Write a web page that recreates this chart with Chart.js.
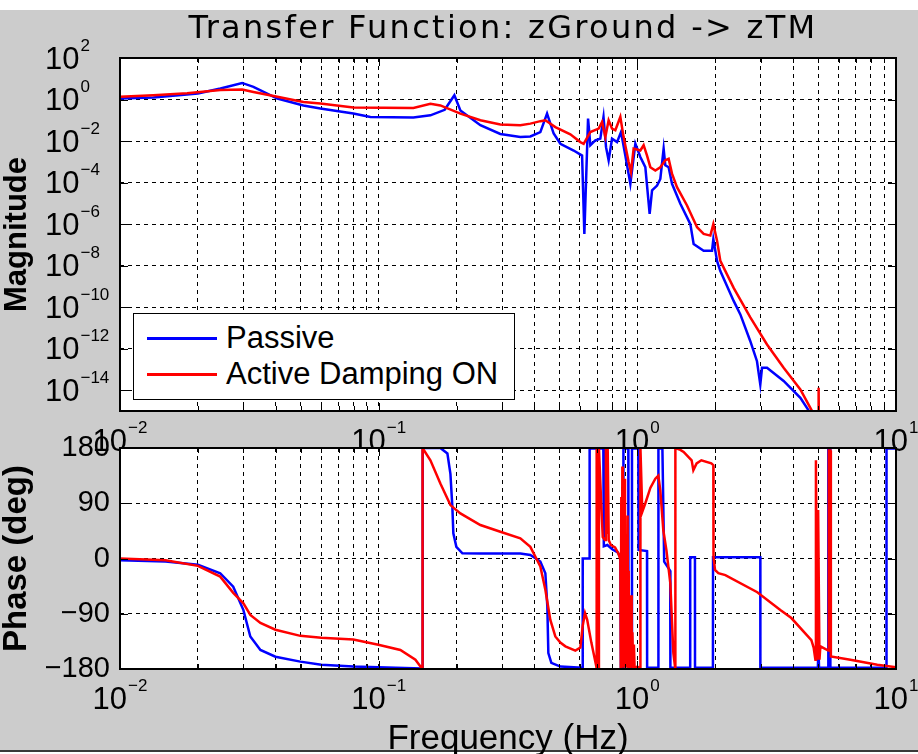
<!DOCTYPE html>
<html>
<head>
<meta charset="utf-8">
<script src="https://cdn.jsdelivr.net/npm/chart.js@4.4.1/dist/chart.umd.min.js"></script>
<style>
  html, body { margin: 0; padding: 0; background: #ffffff; }
  #figure { position: relative; width: 918px; height: 754px; overflow: hidden; }
  #backdrop { position: absolute; left: 0; top: 10px; width: 918px; height: 740px; background: #cccccc; border-bottom: 2px solid #3a3a3a; }
  canvas { position: absolute; left: 0; top: 0; }
  #magCanvas { z-index: 1; }
  #phaseCanvas { z-index: 2; }
  #title { position: absolute; left: 0; top: 7px; width: 1006px; text-align: center; z-index: 3;
           font: 32px "DejaVu Sans", sans-serif; line-height: 40px; letter-spacing: 2.3px; color: #000; white-space: nowrap; }
  #legend { position: absolute; left: 133px; top: 313px; width: 382px; height: 87px; box-sizing: border-box;
            border: 1.5px solid #000; background: #fff; z-index: 3; }
  .entry { position: absolute; left: 0; height: 36px; width: 100%; }
  .swatch { position: absolute; left: 13px; top: 17px; width: 70px; height: 3px; }
  .label { position: absolute; left: 92px; top: 0; font: 31px "Liberation Sans", Arial, sans-serif; line-height: 36px; color: #000; white-space: nowrap; }
</style>
</head>
<body>
<div id="figure">
  <div id="backdrop"></div>
  <canvas id="magCanvas" width="918" height="754"></canvas>
  <canvas id="phaseCanvas" width="918" height="754"></canvas>
  <div id="title">Transfer Function: zGround -&gt; zTM</div>
  <div id="legend"></div>
</div>

<script>
    // axis ticks
    const xTickExponents = [-2, -1, 0, 1];
    const xGridMantissas = [1, 2, 3, 4, 5, 6, 7, 8, 9];
    const magTickExponents = [-14, -12, -10, -8, -6, -4, -2, 0, 2];
    const phaseTicks = [-180, -90, 0, 90, 180];

    const seriesNames = ['Passive', 'Active Damping ON'];
    const seriesColors = ['#0000ff', '#ff0000'];

    // magnitude, passive (Hz, |H|)
    const magFreqPassive = [0.01, 0.01346, 0.02, 0.02444, 0.02965, 0.0328, 0.04059, 0.05116, 0.05953, 0.0798,
        0.0929, 0.1362, 0.1585, 0.18, 0.1962, 0.207, 0.2473, 0.2954, 0.3529, 0.3858,
        0.4217, 0.4477, 0.4748, 0.504, 0.5674, 0.6115, 0.624, 0.6449, 0.6581, 0.6882,
        0.7194, 0.74, 0.7568, 0.7745, 0.7983, 0.8347, 0.865, 0.8987, 0.9397, 0.9825,
        1.0271, 1.0738, 1.1159, 1.1401, 1.1921, 1.2271, 1.2638, 1.2829, 1.3213, 1.3617,
        1.4665, 1.6032, 1.6506, 1.8045, 1.9443, 1.9672, 2.0332, 2.0936, 2.357, 2.5016,
        2.734, 2.901, 2.988, 3.034, 3.172, 3.678, 4.268, 4.666, 5.2];
    const magPassive = [1.12, 1.26, 1.95, 3.4, 6.3, 4.1, 1.12, 0.52, 0.37, 0.21,
        0.145, 0.135, 0.174, 0.32, 1.6, 0.30, 0.058, 0.022, 0.0155, 0.0166,
        0.027, 0.21, 0.023, 0.0074, 0.0035, 0.002, 3.4e-7, 0.12, 0.0063, 0.0107,
        0.013, 0.145, 0.0051, 0.00117, 0.013, 0.0089, 0.027, 0.002, 8.7e-5, 0.0074,
        0.0017, 5.5e-4, 3.1e-6, 4.2e-5, 7.2e-5, 1.5e-4, 0.0043, 6.8e-4, 5.5e-4, 8.7e-5,
        9.5e-6, 1.0e-6, 1.1e-7, 5.2e-8, 5.2e-8, 1.9e-7, 1.7e-8, 5.5e-9, 2.0e-10, 4.5e-11,
        2.3e-12, 2.5e-13, 1.9e-14, 1.2e-13, 1.2e-13, 2.8e-14, 4.3e-15, 7.9e-16, 1e-17];

    // magnitude, active damping on
    const magFreqActive = [0.01, 0.01346, 0.01817, 0.02444, 0.02965, 0.0328, 0.04059, 0.05116, 0.05953, 0.0798,
        0.1362, 0.1585, 0.1732, 0.207, 0.2473, 0.2954, 0.3529, 0.3858, 0.4217, 0.441,
        0.4819, 0.5508, 0.6022, 0.62, 0.658, 0.7087, 0.7306, 0.7522, 0.7745, 0.7983,
        0.8222, 0.8596, 0.8851, 0.9256, 0.9454, 0.9676, 1.0271, 1.0578, 1.0902, 1.1226,
        1.1737, 1.2271, 1.2829, 1.3213, 1.3617, 1.4234, 1.5563, 1.7017, 1.8045, 1.9154,
        1.9672, 2.0332, 2.0936, 2.357, 2.734, 3.172, 3.678, 4.268, 4.734, 4.95,
        5.0, 5.022, 5.04];
    const magActive = [1.35, 1.6, 2.0, 2.9, 3.0, 2.3, 1.35, 0.76, 0.65, 0.41,
        0.39, 0.63, 0.52, 0.21, 0.1, 0.063, 0.058, 0.069, 0.091, 0.1,
        0.047, 0.021, 0.0089, 0.0074, 0.027, 0.04, 0.083, 0.0155, 0.1, 0.04,
        0.033, 0.145, 0.0155, 9.8e-4, 3.2e-4, 0.0043, 0.0035, 0.0063, 0.002, 5.5e-4,
        3.8e-4, 5.5e-4, 0.0012, 0.0014, 2.7e-4, 6.0e-5, 7.9e-6, 7.1e-7, 3.4e-7, 2.8e-7,
        1.0e-6, 1.6e-7, 1.7e-8, 8.5e-10, 3.2e-11, 1.6e-12, 1.2e-13, 1.1e-14, 1.0e-15, 1e-17,
        1e-17, 1.3e-14, 1e-17];

    // phase, passive (Hz, deg)
    const phaseFreqPassive = [0.01, 0.015, 0.02, 0.0244, 0.0274, 0.03, 0.0319, 0.0349, 0.0399, 0.0498,
        0.06, 0.0798, 0.0997, 0.1475, 0.148, 0.1732, 0.1844, 0.1894, 0.1927, 0.1944,
        0.1997, 0.2107, 0.2473, 0.3529, 0.3858, 0.4217, 0.441, 0.4488, 0.4529, 0.4651,
        0.504, 0.6148, 0.615, 0.653, 0.654, 0.7389, 0.742, 0.7656, 0.8, 0.84,
        0.8596, 0.864, 0.8829, 0.8835, 0.923, 0.9235, 0.953, 0.9535, 1.009, 1.011,
        1.09, 1.091, 1.2055, 1.2065, 1.25, 1.27, 1.34, 1.342, 1.6, 1.601,
        1.67, 1.671, 1.96, 1.962, 2.988, 2.99, 4.99, 5.01, 5.04, 5.47,
        5.475, 5.57, 5.575, 9.18, 9.19, 10];
    const phasePassive = [-3, -5, -10, -24, -46, -84, -127, -149, -160, -168,
        -173, -176, -177, -179, 180, 180, 171, 138, 84, 41,
        19, 8.5, 8, 8, 5.7, -5, -24, -78, -154, -170,
        -176, -178, 0, 0, 179, 179, 20, 22, 15, 10,
        2, -178, -178, 179, 179, -178, -178, 179, 179, 14,
        12, -178, -178, 179, 179, -5, -20, -178, -178, 2,
        2, -178, -178, 2, 2, -178, -178, -137, -178, -178,
        179, 179, -178, -178, 179, 179];

    // phase, active damping on
    const phaseFreqActive = [0.01, 0.015, 0.02, 0.0244, 0.0274, 0.03, 0.0319, 0.0349, 0.0399, 0.0498,
        0.06, 0.0798, 0.0997, 0.1213, 0.1387, 0.1475, 0.1478, 0.1585, 0.1732, 0.1894,
        0.207, 0.2473, 0.2954, 0.3529, 0.3858, 0.4217, 0.441, 0.461, 0.4819, 0.504,
        0.5269, 0.576, 0.6022, 0.6148, 0.6277, 0.64, 0.6641, 0.6942, 0.696, 0.6965,
        0.704, 0.71, 0.7105, 0.725, 0.735, 0.75, 0.756, 0.762, 0.768, 0.775,
        0.79, 0.82, 0.845, 0.86, 0.863, 0.867, 0.871, 0.875, 0.879, 0.884,
        0.888, 0.892, 0.896, 0.9, 0.904, 0.908, 0.912, 0.917, 0.921, 0.926,
        0.93, 0.935, 0.94, 0.946, 0.951, 0.957, 0.963, 0.97, 0.976, 1.0,
        1.027, 1.028, 1.045, 1.0738, 1.1028, 1.1226, 1.1737, 1.2055, 1.2271, 1.2603,
        1.295, 1.3413, 1.378, 1.4023, 1.403, 1.4665, 1.51, 1.6217, 1.6465, 1.6952,
        1.7682, 1.932, 1.9672, 1.97, 1.997, 2.0567, 2.189, 2.9092, 3.5718, 3.9394,
        4.708, 4.804, 4.88, 4.903, 4.96, 5.0, 5.06, 5.1, 5.474, 5.5,
        5.574, 5.6, 6.662, 8.4655, 10];
    const phaseActive = [0, -3, -12, -29.5, -56, -73, -92, -105, -116, -126,
        -129, -132, -140.5, -149, -165, -180, 180, 160, 122, 87,
        73.5, 54.5, 43.5, 33, 19, -13, -51, -100, -127, -137,
        -143, -150, -145, -110, -89, -100, -137, -176, -180, 180,
        60, -180, 180, 90, 35, 30, 180, 40, 180, 30,
        22, 18, 8, -2, -180, 100, -170, 150, -178, 60,
        -175, 130, -178, 20, -170, -40, -178, 70, -176, -20,
        -178, -90, -176, -60, -178, -120, -178, -140, -178, -176,
        -179, 180, 76, 90, 105, 115, 130, 135, 111, 46,
        14, -40, -154, -180, 180, 177, 173.5, 160, 144, 155,
        160, 155, 152, 3, -18.6, -24, -27, -55, -84, -97,
        -133, -145, -165, 160, -165, 79, -165, -143, -150, 176,
        176, -159.5, -165, -173, -177];

    function toPoints(xs, ys) {
        return xs.map((x, i) => ({ x: x, y: ys[i] }));
    }

    const MINUS = '\u2212';
    const BASE_FONT = '31px "Liberation Sans", Arial, sans-serif';
    const EXP_FONT = '17px "Liberation Sans", Arial, sans-serif';

    function buildLogXTicks(scale) {
        const ticks = [];
        xTickExponents.forEach(e => {
            xGridMantissas.forEach(m => {
                const v = m * Math.pow(10, e);
                if (v <= 10.0001) ticks.push({ value: v, major: m === 1 });
            });
        });
        scale.ticks = ticks;
    }

    function expText(e) {
        return e < 0 ? MINUS + (-e) : String(e);
    }

    // white axes box, inward tick marks and the solid frame
    const axesFrame = {
        id: 'axesFrame',
        beforeDraw(chart) {
            const { ctx, chartArea: a } = chart;
            ctx.save();
            ctx.fillStyle = '#ffffff';
            ctx.fillRect(a.left, a.top, a.right - a.left, a.bottom - a.top);
            ctx.restore();
        },
        afterDatasetsDraw(chart) {
            const { ctx, chartArea: a, scales } = chart;
            ctx.save();
            ctx.strokeStyle = '#000';
            ctx.lineWidth = 1;
            ctx.beginPath();
            scales.x.ticks.forEach(t => {
                const px = Math.round(scales.x.getPixelForValue(t.value)) + 0.5;
                const len = t.major ? 8 : 5;
                ctx.moveTo(px, a.top); ctx.lineTo(px, a.top + len);
                ctx.moveTo(px, a.bottom); ctx.lineTo(px, a.bottom - len);
            });
            scales.y.ticks.forEach(t => {
                const py = Math.round(scales.y.getPixelForValue(t.value)) + 0.5;
                ctx.moveTo(a.left, py); ctx.lineTo(a.left + 8, py);
                ctx.moveTo(a.right, py); ctx.lineTo(a.right - 8, py);
            });
            ctx.stroke();
            ctx.lineWidth = 2;
            ctx.strokeRect(a.left, a.top, a.right - a.left, a.bottom - a.top);
            ctx.restore();
        }
    };

    // "10" with a raised exponent, placed with the chart's own scales
    const expLabels = {
        id: 'expLabels',
        afterDraw(chart, args, opts) {
            const { ctx, chartArea: a, scales } = chart;
            ctx.save();
            ctx.fillStyle = '#000';
            ctx.textBaseline = 'alphabetic';
            ctx.textAlign = 'left';
            ctx.font = BASE_FONT;
            const wb = ctx.measureText('10').width;
            if (opts.x) {
                xTickExponents.forEach(e => {
                    const px = scales.x.getPixelForValue(Math.pow(10, e));
                    ctx.font = EXP_FONT;
                    const we = ctx.measureText(expText(e)).width;
                    const left = px - (wb + 1 + we) / 2;
                    const base = a.bottom + 40;
                    ctx.font = BASE_FONT;
                    ctx.fillText('10', left, base);
                    ctx.font = EXP_FONT;
                    ctx.fillText(expText(e), left + wb + 1, base - 18);
                });
            }
            if (opts.y) {
                magTickExponents.forEach(e => {
                    const py = scales.y.getPixelForValue(Math.pow(10, e));
                    const base = py + 10.5;
                    ctx.font = BASE_FONT;
                    ctx.fillText('10', 45, base);
                    ctx.font = EXP_FONT;
                    ctx.fillText(expText(e), 45 + wb + 1, base - 18);
                });
            }
            ctx.restore();
        }
    };

    Chart.defaults.color = '#000';
    Chart.defaults.font.family = '"Liberation Sans", Arial, sans-serif';

    const gridStyle = { color: '#000', lineWidth: 1, drawTicks: false, tickLength: 0 };
    const borderStyle = { display: false, dash: [4, 4] };

    function lineDataset(i, points) {
        return {
            label: seriesNames[i],
            data: points,
            borderColor: seriesColors[i],
            backgroundColor: seriesColors[i],
            borderWidth: 2.5,
            pointRadius: 0,
            tension: 0,
            fill: false,
            order: i === 0 ? 1 : 0
        };
    }

    const magChart = new Chart(document.getElementById('magCanvas').getContext('2d'), {
        type: 'line',
        data: {
            datasets: [
                lineDataset(0, toPoints(magFreqPassive, magPassive)),
                lineDataset(1, toPoints(magFreqActive, magActive))
            ]
        },
        options: {
            responsive: false,
            animation: false,
            events: [],
            layout: { padding: { left: 0, top: 58, right: 22, bottom: 343 } },
            plugins: { legend: { display: false }, tooltip: { enabled: false }, expLabels: { x: true, y: true } },
            scales: {
                x: {
                    type: 'logarithmic', min: 0.01, max: 10,
                    afterBuildTicks: buildLogXTicks,
                    afterFit: s => { s.height = 0; },
                    ticks: { display: false },
                    grid: gridStyle, border: borderStyle
                },
                y: {
                    type: 'logarithmic', min: 1e-15, max: 1e2,
                    afterBuildTicks: s => { s.ticks = magTickExponents.map(e => ({ value: Math.pow(10, e) })); },
                    afterFit: s => { s.width = 120; },
                    ticks: { display: false },
                    grid: gridStyle, border: borderStyle,
                    title: { display: true, text: 'Magnitude', color: '#000',
                             font: { size: 31, weight: 'bold', lineHeight: 1.15 }, padding: 0 }
                }
            }
        },
        plugins: [axesFrame, expLabels]
    });

    const phaseChart = new Chart(document.getElementById('phaseCanvas').getContext('2d'), {
        type: 'line',
        data: {
            datasets: [
                lineDataset(0, toPoints(phaseFreqPassive, phasePassive)),
                lineDataset(1, toPoints(phaseFreqActive, phaseActive))
            ]
        },
        options: {
            responsive: false,
            animation: false,
            events: [],
            layout: { padding: { left: 0, top: 448, right: 22, bottom: 0 } },
            plugins: { legend: { display: false }, tooltip: { enabled: false }, expLabels: { x: true, y: false } },
            scales: {
                x: {
                    type: 'logarithmic', min: 0.01, max: 10,
                    afterBuildTicks: buildLogXTicks,
                    afterFit: s => { s.height = 85; },
                    ticks: { display: false },
                    grid: gridStyle, border: borderStyle,
                    title: { display: true, text: 'Frequency (Hz)', color: '#000',
                             font: { size: 35, weight: 'normal', lineHeight: 0.82 }, padding: 0 }
                },
                y: {
                    type: 'linear', min: -180, max: 180,
                    afterBuildTicks: s => { s.ticks = phaseTicks.map(v => ({ value: v })); },
                    afterFit: s => { s.width = 120; },
                    ticks: {
                        padding: 10, color: '#000',
                        font: { size: 29 },
                        callback: v => String(v).replace('-', MINUS)
                    },
                    grid: gridStyle, border: borderStyle,
                    title: { display: true, text: 'Phase (deg)', color: '#000',
                             font: { size: 33, weight: 'bold', lineHeight: 1 }, padding: 0 }
                }
            }
        },
        plugins: [axesFrame, expLabels]
    });

    // legend box built from the magnitude chart's datasets
    const legendBox = document.getElementById('legend');
    magChart.data.datasets.forEach((ds, i) => {
        const entry = document.createElement('div');
        entry.className = 'entry';
        entry.style.top = (i === 0 ? 6 : 42) + 'px';
        const swatch = document.createElement('div');
        swatch.className = 'swatch';
        swatch.style.background = ds.borderColor;
        const label = document.createElement('div');
        label.className = 'label';
        label.textContent = ds.label;
        entry.appendChild(swatch);
        entry.appendChild(label);
        legendBox.appendChild(entry);
    });
</script>
</body>
</html>
